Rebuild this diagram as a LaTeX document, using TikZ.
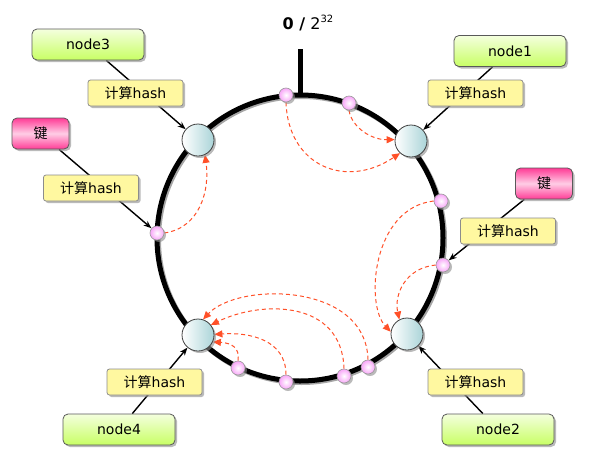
\documentclass[tikz,border=0pt]{standalone}
\usepackage{fontspec}
\setmainfont{DejaVu Sans}
\newfontfamily\cjk{Noto Sans CJK SC}
\usetikzlibrary{arrows.meta,shadows}
\pgfdeclarelayer{bg}
\pgfsetlayers{bg,main}
\definecolor{hashred}{RGB}{255,80,40}
\definecolor{greentop}{RGB}{244,255,222}
\definecolor{greenbot}{RGB}{200,255,100}
\definecolor{hashyellow}{RGB}{255,248,160}
\definecolor{keypink}{RGB}{255,60,150}
\definecolor{keylight}{RGB}{255,205,230}
\definecolor{serverteal}{RGB}{170,212,216}
\definecolor{dotpink}{RGB}{248,165,248}
\begin{document}
\begin{tikzpicture}[x=1pt,y=-1pt,
  shadowed/.style={drop shadow={shadow xshift=2pt,shadow yshift=-2pt,fill=black!45,opacity=0.6}},
  serverbox/.style={shadowed,draw=black!65,line width=0.8pt,rounded corners=5pt,
    top color=greentop,bottom color=greenbot,minimum width=112pt,minimum height=31pt,
    inner sep=0pt,font=\fontsize{14}{14}\selectfont},
  keybox/.style={shadowed,draw=black!65,line width=0.8pt,rounded corners=5pt,
    top color=keypink,bottom color=keypink,middle color=keylight,minimum width=57pt,
    minimum height=31pt,inner sep=0pt,font=\fontsize{14}{14}\selectfont\cjk},
  hashbox/.style={shadowed,draw=black!45,line width=0.8pt,rounded corners=2.5pt,
    fill=hashyellow,minimum width=95pt,minimum height=26pt,inner sep=0pt,
    font=\fontsize{14}{14}\selectfont},
  server/.style={shadowed,circle,draw=black!75,line width=0.8pt,left color=white,
    right color=serverteal,minimum size=32pt,inner sep=0pt},
  hdot/.style={shadowed,circle,draw=black!40,line width=0.6pt,inner color=white,
    outer color=dotpink,minimum size=14pt,inner sep=0pt},
  conn/.style={line width=1.4pt,-{Stealth[length=8pt,width=6pt]}},
  hasharrow/.style={hashred,dash pattern=on 4pt off 3pt,line width=1pt,
    -{Triangle[length=8pt,width=7pt,fill=hashred]}}
]
\useasboundingbox (0,0) rectangle (594,474);

% ring nodes
\node[server] (n3) at (198,140) {};
\node[server] (n1) at (411,141) {};
\node[server] (n2) at (407,334) {};
\node[server] (n4) at (198,335) {};

% hashed keys / points
\node[hdot] (d1) at (286,95) {};
\node[hdot] (d2) at (349,103) {};
\node[hdot] (d3) at (157,233) {};
\node[hdot] (d4) at (441,201) {};
\node[hdot] (d5) at (443,265) {};
\node[hdot] (d6) at (238,368) {};
\node[hdot] (d7) at (286,382) {};
\node[hdot] (d8) at (344,376) {};
\node[hdot] (d9) at (368,367) {};

% labels
\node[serverbox] (b3) at (88,44.5) {node3};
\node[serverbox] (b1) at (510,51) {node1};
\node[serverbox] (b2) at (498,429.5) {node2};
\node[serverbox] (b4) at (119,429.5) {node4};
\node[keybox] (k1) at (40.5,133.5) {键};
\node[keybox] (k2) at (544,183.5) {键};

\node[hashbox] (h3) at (135.5,93) {{\cjk 计算}hash};
\node[hashbox] (h1) at (475.5,93) {{\cjk 计算}hash};
\node[hashbox] (hk1) at (91,188) {{\cjk 计算}hash};
\node[hashbox] (hk2) at (508,231) {{\cjk 计算}hash};
\node[hashbox] (h4) at (154.5,382) {{\cjk 计算}hash};
\node[hashbox] (h2) at (475.5,382) {{\cjk 计算}hash};

\node[font=\fontsize{16}{16}\selectfont,inner sep=0pt] (zero) at (308,23)
  {\textbf{0 /} 2\raisebox{6.5pt}{\fontsize{10}{10}\selectfont 32}};

\begin{pgfonlayer}{bg}
  \coordinate (ringtop) at (300,95);
  \coordinate (stemtop) at (300,49);
  \draw[black!35,line width=5pt] (301.5,239.5) circle[radius=143];
  \draw[black,line width=5pt] (300,238) circle[radius=143];
  \draw[black,line width=5pt] (stemtop) -- (ringtop);

  \draw[conn] (b3) -- (n3);
  \draw[conn] (b1) -- (n1);
  \draw[conn] (b2) -- (n2);
  \draw[conn] (b4) -- (n4);
  \draw[conn] (k1) -- (d3);
  \draw[conn] (k2) -- (d5);

  \draw[hasharrow] (d2.south) .. controls (352,128) and (372,140) .. (n1.175);
  \draw[hasharrow] (d1.south) .. controls (288,165) and (345,190) .. (n1.228);
  \draw[hasharrow] (d3.east) .. controls (200,228) and (210,190) .. (n3.-65);
  \draw[hasharrow] (d4.west) .. controls (372,208) and (365,305) .. (n2.172);
  \draw[hasharrow] (d5.west) .. controls (405,268) and (394,295) .. (n2.118);
  \draw[hasharrow] (d6.north) .. controls (240,348) and (232,343) .. (n4.-25);
  \draw[hasharrow] (d7.north) .. controls (286,340) and (250,332) .. (n4.2);
  \draw[hasharrow] (d8.north) .. controls (342,300) and (262,300) .. (n4.38);
  \draw[hasharrow] (d9.north) .. controls (366,282) and (238,282) .. (n4.72);
\end{pgfonlayer}
\end{tikzpicture}
\end{document}
